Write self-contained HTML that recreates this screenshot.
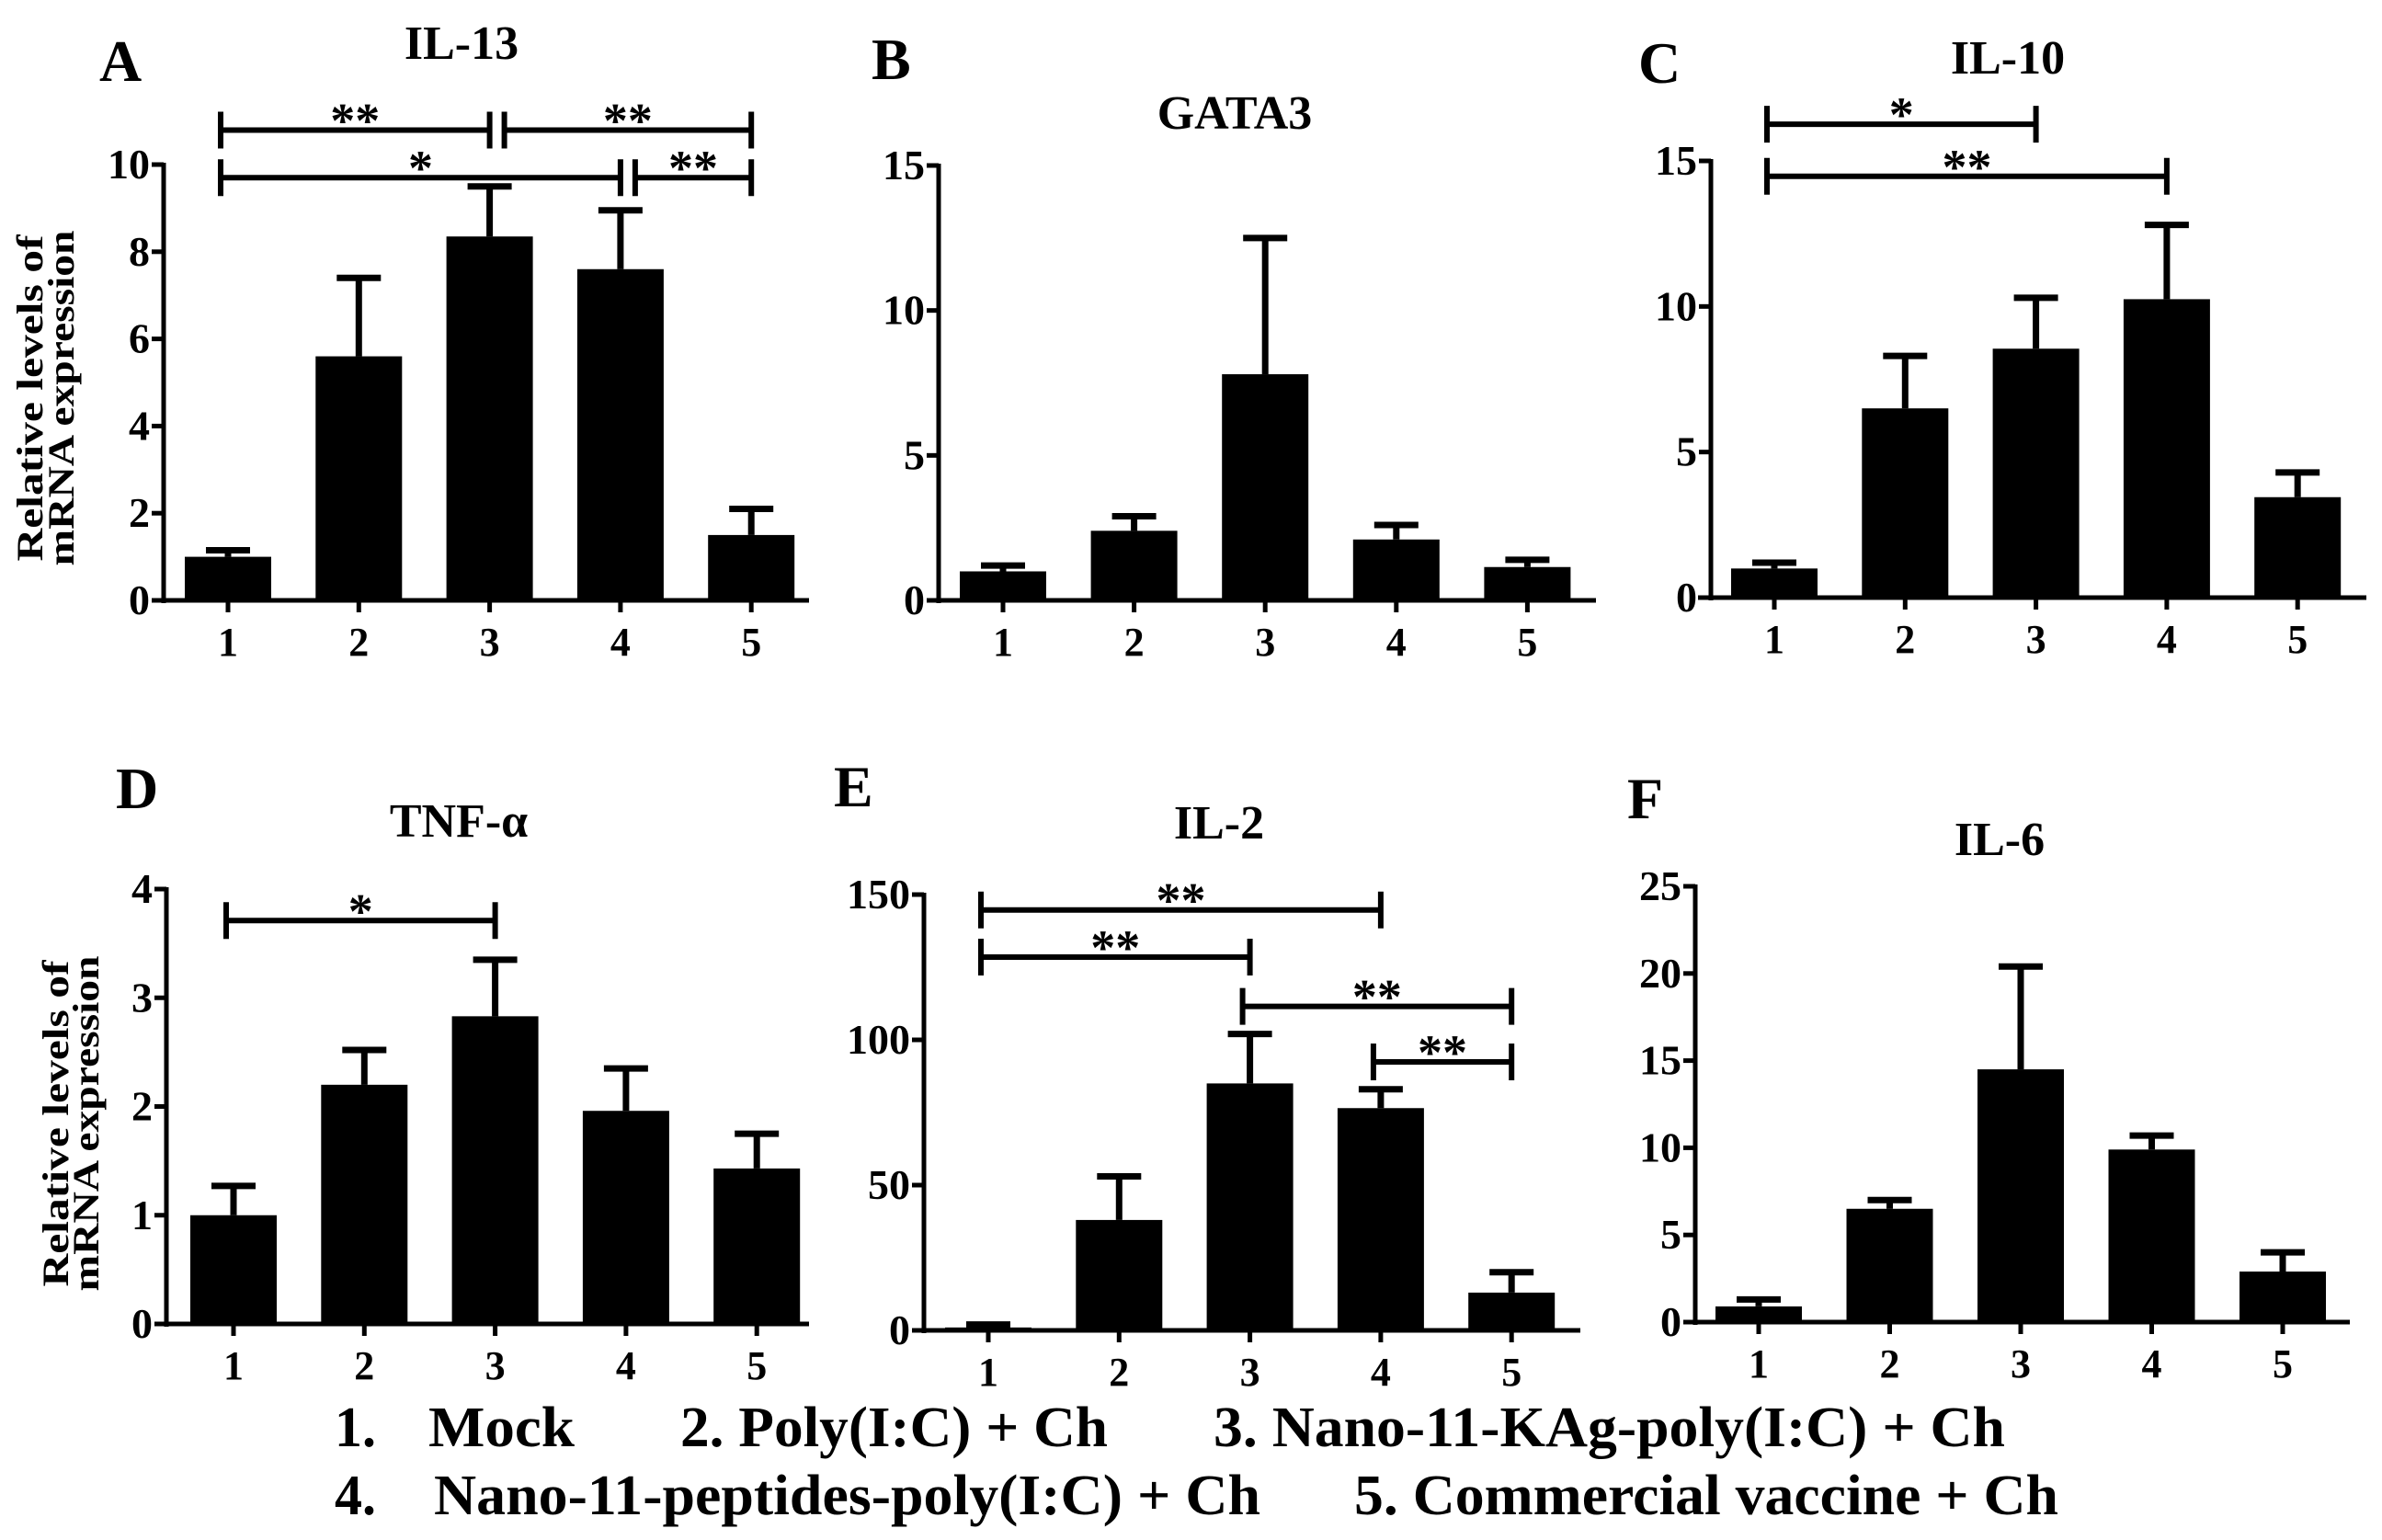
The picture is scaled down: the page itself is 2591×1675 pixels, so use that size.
<!DOCTYPE html>
<html><head><meta charset="utf-8"><style>
html,body{margin:0;padding:0;background:#fff;}
svg{display:block;font-family:"Liberation Serif",serif;font-weight:bold;}
</style></head><body>
<svg id="fig" width="2591" height="1675" viewBox="0 0 2591 1675" xmlns="http://www.w3.org/2000/svg"></svg>
<script>
const categories = ["1","2","3","4","5"];
// Panel A IL-13
const aValues = [1.0, 5.6, 8.35, 7.6, 1.5];
const aErrors = [1.15, 7.4, 9.5, 8.95, 2.1];
const aTicks = [0,2,4,6,8,10];
const aSig = [[0,2,10.79,"**"],[2,4,10.79,"**"],[0,3,9.70,"*"],[3,4,9.70,"**"]];
// Panel B GATA3
const bValues = [1.0, 2.4, 7.8, 2.1, 1.15];
const bErrors = [1.2, 2.9, 12.5, 2.6, 1.4];
const bTicks = [0,5,10,15];
// Panel C IL-10
const cValues = [1.0, 6.5, 8.55, 10.25, 3.45];
const cErrors = [1.2, 8.3, 10.3, 12.8, 4.3];
const cTicks = [0,5,10,15];
const cSig = [[0,2,16.26,"*"],[0,3,14.47,"**"]];
// Panel D TNF-alpha
const dValues = [1.0, 2.2, 2.83, 1.96, 1.43];
const dErrors = [1.27, 2.52, 3.35, 2.35, 1.75];
const dTicks = [0,1,2,3,4];
const dSig = [[0,2,3.71,"*"]];
// Panel E IL-2
const eValues = [1.0, 38, 85, 76.5, 13];
const eErrors = [2, 53, 102, 83, 20];
const eTicks = [0,50,100,150];
const eSig = [[0,3,144.7,"**"],[0,2,128.5,"**"],[2,4,111.5,"**"],[3,4,92.4,"**"]];
// Panel F IL-6
const fValues = [0.9, 6.5, 14.5, 9.9, 2.9];
const fErrors = [1.3, 7.0, 20.4, 10.7, 4.0];
const fTicks = [0,5,10,15,20,25];

const NS="http://www.w3.org/2000/svg";
const svg=document.getElementById('fig');
function mk(tag,attrs,parent){const e=document.createElementNS(NS,tag);for(const k in attrs)e.setAttribute(k,attrs[k]);(parent||svg).appendChild(e);return e;}
function txt(s,attrs,parent){const t=mk('text',attrs,parent);t.textContent=s;return t;}

function panel(p){
  const g=mk('g',{});
  
  
  const max=p.ticks[p.ticks.length-1];
  const y=v=>p.y0-(p.y0-p.yTop)*v/max;
  const x=i=>p.x1+i*p.step;
  const L=txt(p.letter,{x:p.lx,y:p.ly,'font-size':64},g);
  
  
  const T=txt(p.title,{x:p.tx,y:p.ty,'font-size':52,'text-anchor':'middle'},g);
  
  
  p.values.forEach((v,i)=>{
    const cx=x(i);
    const er=mk('path',{d:`M${cx},${y(v)} V${y(p.errors[i])} M${cx-24},${y(p.errors[i])} H${cx+24}`,stroke:'#000','stroke-width':7,fill:'none'},g);
    
    
    const r=mk('rect',{x:cx-47,y:y(v),width:94,height:p.y0-y(v),fill:'#000'},g);
    
    
    const tk=mk('line',{x1:cx,x2:cx,y1:p.y0,y2:p.y0+13,stroke:'#000','stroke-width':5},g);
    
    
    const tl=txt(categories[i],{x:cx,y:p.y0+60,'font-size':44,'text-anchor':'middle'},g);
    
    
  });
  const ya=mk('line',{x1:p.ax,x2:p.ax,y1:p.yTop-2,y2:p.y0+3,stroke:'#000','stroke-width':5},g);
  
  
  const xa=mk('line',{x1:p.xs,x2:p.xe,y1:p.y0,y2:p.y0,stroke:'#000','stroke-width':5},g);
  
  
  p.ticks.forEach(t=>{
    const yy=y(t);
    const l=mk('line',{x1:p.ax-13,x2:p.ax,y1:yy,y2:yy,stroke:'#000','stroke-width':5},g);
    
    
    const tl=txt(String(t),{x:p.ax-15,y:yy+15,'font-size':46,'text-anchor':'end'},g);
    
    
  });
  (p.sig||[]).forEach(s=>{
    const yy=y(s[2]);
    let xa1=x(s[0])-8, xb=x(s[1]);
    if((p.sig||[]).some(o=>o!==s&&o[1]===s[0]&&Math.abs(o[2]-s[2])<0.01)) xa1=x(s[0])+16;
    const b=mk('path',{d:`M${xa1},${yy-20} V${yy+20} M${xa1},${yy} H${xb} M${xb},${yy-20} V${yy+20}`,stroke:'#000','stroke-width':6,fill:'none'},g);
    
    
    const st=txt(s[3],{x:(xa1+xb)/2,y:yy+8,'font-size':54,'text-anchor':'middle'},g);
    
    
  });
  if(p.ytitle){
    const t1=txt('Relative levels of',{x:0,y:0,'font-size':40,'text-anchor':'middle',textLength:355,lengthAdjust:'spacingAndGlyphs',transform:`translate(${p.ytx1},${p.ytc}) rotate(-90)`},g);
    
    
    const t2=txt('mRNA expression',{x:0,y:0,'font-size':40,'text-anchor':'middle',textLength:365,lengthAdjust:'spacingAndGlyphs',transform:`translate(${p.ytx2},${p.ytc}) rotate(-90)`},g);
    
    
  }
}

panel({id:'a',letter:'A',lx:108,ly:88,title:'IL-13',tx:502,ty:64,values:aValues,errors:aErrors,ticks:aTicks,sig:aSig,
  ax:178,y0:653,yTop:179,x1:248,step:142.3,xs:166,xe:880,ytitle:true,ytx1:46,ytx2:80,ytc:433});
panel({id:'b',letter:'B',lx:948,ly:86,title:'GATA3',tx:1343,ty:140,values:bValues,errors:bErrors,ticks:bTicks,
  ax:1021,y0:653,yTop:180,x1:1091,step:142.6,xs:1008,xe:1736});
panel({id:'c',letter:'C',lx:1782,ly:90,title:'IL-10',tx:2184,ty:80,values:cValues,errors:cErrors,ticks:cTicks,sig:cSig,
  ax:1861,y0:650,yTop:175,x1:1930,step:142.3,xs:1847,xe:2574});
panel({id:'d',letter:'D',lx:126,ly:879,title:'TNF-α',tx:499,ty:910,values:dValues,errors:dErrors,ticks:dTicks,sig:dSig,
  ax:181,y0:1440,yTop:967,x1:254,step:142.3,xs:171,xe:880,ytitle:true,ytx1:74,ytx2:107,ytc:1222});
panel({id:'e',letter:'E',lx:907,ly:877,title:'IL-2',tx:1326,ty:912,values:eValues,errors:eErrors,ticks:eTicks,sig:eSig,
  ax:1005,y0:1447,yTop:973,x1:1075,step:142.3,xs:992,xe:1719});
panel({id:'f',letter:'F',lx:1770,ly:890,title:'IL-6',tx:2175,ty:930,values:fValues,errors:fErrors,ticks:fTicks,
  ax:1844,y0:1438,yTop:964,x1:1913,step:142.5,xs:1831,xe:2556});

const legendItems=[["1.",364,1573,45],["Mock",466,1573,159],["2. Poly(I:C) + Ch",740,1573,465],["3. Nano-11-KAg-poly(I:C) + Ch",1320,1573,861],
  ["4.",364,1647,45],["Nano-11-peptides-poly(I:C) + Ch",472,1647,899],["5. Commercial vaccine + Ch",1473,1647,766]];
legendItems.forEach(it=>{
  const t=txt(it[0],{x:it[1],y:it[2],'font-size':62,textLength:it[3],lengthAdjust:'spacingAndGlyphs'});
  
  
});
</script>
</body></html>
